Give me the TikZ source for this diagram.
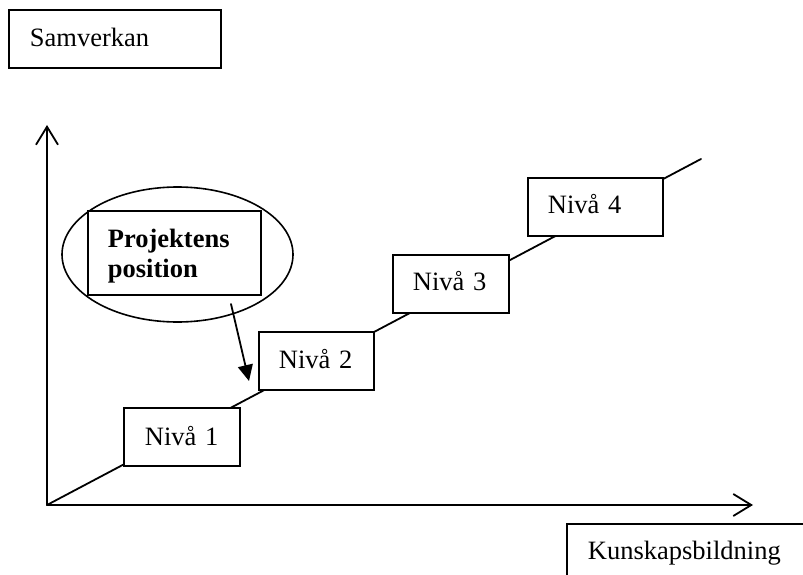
\documentclass[tikz,border=0pt]{standalone}
\usepackage{fontspec}
\setmainfont{Liberation Serif}
\usetikzlibrary{arrows.meta,shapes.geometric}
\newcommand\diagfont{\fontsize{26.5}{30}\selectfont}
\tikzset{
  ln/.style={line width=1.8pt, line cap=round},
  tbox/.style={draw, fill=white, line width=1.8pt, inner ysep=0pt, align=left,
    anchor=base west, font=\diagfont},
  axis/.style={ln, -{Straight Barb[length=18pt,width=22pt,line width=1.8pt]}},
  pointer/.style={ln, -{Triangle[length=16pt,width=15pt]}}
}
\begin{document}
\begin{tikzpicture}[x=1pt,y=-1pt]
\clip (0,0) rectangle (803,575);
\fill[white] (0,0) rectangle (803,575);

% axes and trend line
\coordinate (O) at (47,505);
\coordinate (ytop) at (47,125);
\coordinate (xend) at (753,505);
\coordinate (tend) at (701,159);
\draw[axis] (O) -- (ytop);
\draw[axis] (O) -- (xend);
\draw[ln] (O) -- (tend);

% ellipse around project position
\node[draw, ellipse, line width=1.6pt, minimum width=231pt, minimum height=135pt, inner sep=0pt] (ell) at (177.5,254.5) {};

% boxes
\node[tbox, inner xsep=21pt, text width=170pt, text height=37pt, text depth=21pt] (samv) at (8,47) {Samverkan};
\node[tbox, inner xsep=20pt, text width=133pt, text height=36pt, text depth=48pt, font=\diagfont\bfseries] (proj) at (87,247) {Projektens\\position};
\node[tbox, inner xsep=21pt, text width=74pt, text height=37pt, text depth=21pt] (n1) at (123,445) {Nivå~1};
\node[tbox, inner xsep=20pt, text width=75pt, text height=36pt, text depth=22pt] (n2) at (258,368) {Nivå~2};
\node[tbox, inner xsep=20pt, text width=76pt, text height=35pt, text depth=23pt] (n3) at (392,290) {Nivå~3};
\node[tbox, inner xsep=20pt, text width=95pt, text height=35pt, text depth=23pt] (n4) at (527,213) {Nivå~4};
\node[tbox, inner xsep=21pt, text width=207pt, text height=35pt, text depth=31pt] (kun) at (566,559) {Kunskapsbildning};

% pointer arrow
\coordinate (as) at (231,304);
\coordinate (ae) at (249,381);
\draw[pointer] (as) -- (ae);
\end{tikzpicture}
\end{document}
